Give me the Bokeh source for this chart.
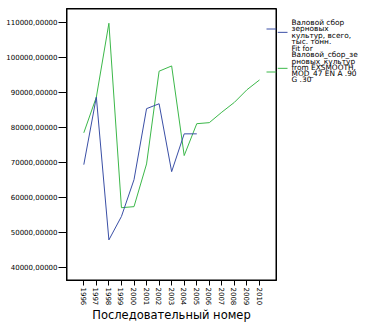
import math
from bokeh.plotting import figure
from bokeh.layouts import row
from bokeh.models import Range1d, FixedTicker
from bokeh.core.properties import value
from bokeh.embed import file_html
from bokeh.resources import INLINE

years = list(range(1996, 2011))
actual = [69300, 88600, 47800, 54500, 65000, 85300, 86700, 67300, 78100, 78100,
          None, None, None, None, None]
fitted = [78400, 88600, 109700, 57000, 57300, 69500, 96000, 97500, 71900, 81000,
          81300, 84300, 87100, 90700, 93500]
y_ticks = [40000, 50000, 60000, 70000, 80000, 90000, 100000, 110000]
y_tick_labels = ["40000,00000", "50000,00000", "60000,00000", "70000,00000",
                 "80000,00000", "90000,00000", "100000,00000", "110000,00000"]
x_title = "Последовательный номер"
legend1 = ["Валовой сбор", "зерновых", "культур, всего,", "тыс. тонн."]
legend2 = ["Fit for", "Валовой_сбор_зе", "рновых_культур", "from EXSMOOTH,",
           "MOD_47 EN A .90", "G .30"]

BLUE = "#3a4fa6"
GREEN = "#3cb84a"
FONT = "DejaVu Sans"

# layout (pixels)
W, H = 369, 325
FL, FR, FT, FB = 66, 276, 8, 280
MAIN_W = FR + 1
PX_PER_YEAR = 12.55
PX_PER_10K = 35.0
x0 = 1996 - (83.3 - FL) / PX_PER_YEAR
x1 = x0 + (FR - FL) / PX_PER_YEAR
y1 = 110000 + (21.7 - FT) / PX_PER_10K * 10000
y0 = y1 - (FB - FT) / PX_PER_10K * 10000


def px2x(px):
    return x0 + (px - FL) / PX_PER_YEAR


def py2y(py):
    return y1 - (py - FT) / PX_PER_10K * 10000


p = figure(width=MAIN_W, height=H, output_backend="svg", toolbar_location=None,
           x_range=Range1d(x0, x1), y_range=Range1d(y0, y1),
           min_border_left=FL, min_border_right=MAIN_W - FR,
           min_border_top=FT, min_border_bottom=H - FB)
p.background_fill_color = "white"
p.border_fill_color = "white"
p.outline_line_color = "black"
p.xgrid.visible = False
p.ygrid.visible = False

# frame border (half clipped by the frame -> 1px visible)
p.quad(left=[x0], right=[x1], bottom=[y0], top=[y1], fill_color=None,
       line_color="black", line_width=2)

a = [float("nan") if v is None else v for v in actual]
p.line(years, fitted, line_color=GREEN, line_width=1)
p.line(years, a, line_color=BLUE, line_width=1)

# legend line stubs inside the frame
leg_y_px = [28.5, 71.5]
p.segment(x0=[px2x(266)] * 2, x1=[x1] * 2,
          y0=[py2y(v) for v in leg_y_px], y1=[py2y(v) for v in leg_y_px],
          line_color=[BLUE, GREEN], line_width=1)

p.xaxis.ticker = FixedTicker(ticks=years)
p.xaxis.major_label_overrides = {y: str(y) for y in years}
p.xaxis.major_label_orientation = -math.pi / 2
p.xaxis.major_label_text_font = FONT
p.xaxis.major_label_text_font_size = "7px"
p.xaxis.major_label_text_color = "black"
p.xaxis.major_label_standoff = 2
p.xaxis.major_tick_out = 5
p.xaxis.major_tick_in = 0
p.xaxis.minor_tick_line_color = None
p.xaxis.axis_line_color = "black"
p.xaxis.major_tick_line_color = "black"
p.xaxis.axis_label = x_title
p.xaxis.axis_label_text_font = FONT
p.xaxis.axis_label_text_font_size = "11.5px"
p.xaxis.axis_label_text_font_style = "normal"
p.xaxis.axis_label_text_color = "black"
p.xaxis.axis_label_standoff = 0

p.yaxis.ticker = FixedTicker(ticks=y_ticks)
p.yaxis.major_label_overrides = dict(zip(y_ticks, y_tick_labels))
p.yaxis.major_label_text_font = FONT
p.yaxis.major_label_text_font_size = "7px"
p.yaxis.major_label_text_color = "black"
p.yaxis.major_label_standoff = 1
p.yaxis.major_tick_out = 8
p.yaxis.major_tick_in = 0
p.yaxis.minor_tick_line_color = None
p.yaxis.axis_line_color = "black"
p.yaxis.major_tick_line_color = "black"

# legend panel
lg = figure(width=W - MAIN_W, height=H, output_backend="svg",
            toolbar_location=None,
            x_range=Range1d(MAIN_W, W), y_range=Range1d(H, 0),
            min_border_left=0, min_border_right=0,
            min_border_top=0, min_border_bottom=0)
lg.axis.visible = False
lg.xgrid.visible = False
lg.ygrid.visible = False
lg.outline_line_color = None
lg.background_fill_color = "white"
lg.border_fill_color = "white"
lg.segment(x0=[MAIN_W] * 2, x1=[287] * 2, y0=leg_y_px, y1=leg_y_px,
           line_color=[BLUE, GREEN], line_width=1)

tx, ty, tt = [], [], []
for lines, top, step in ((legend1, 16.5, 7.6), (legend2, 48.0, 7.4)):
    for i, t in enumerate(lines):
        tx.append(291)
        ty.append(top + i * step)
        tt.append(t)
lg.text(x=tx, y=ty, text=tt, text_font=value(FONT), text_font_size="7.4px",
        text_color="black", text_baseline="middle", text_align="left")

layout = row(p, lg, spacing=0)
open("out.html", "w").write(file_html(layout, INLINE))
